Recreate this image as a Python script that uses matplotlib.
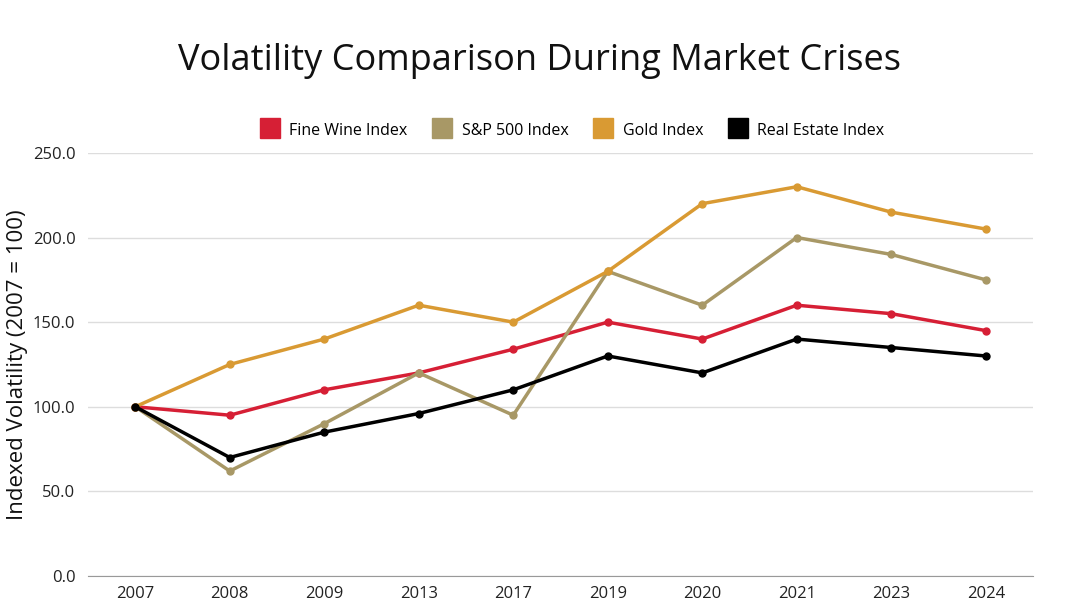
import matplotlib
matplotlib.use('Agg')
import matplotlib.pyplot as plt
import numpy as np

plt.rcParams['font.family'] = ['Open Sans', 'DejaVu Sans']

# --- data ---
years = ['2007', '2008', '2009', '2013', '2017', '2019', '2020', '2021', '2023', '2024']
fine_wine = [100, 95, 110, 120, 134, 150, 140, 160, 155, 145]
sp500 = [100, 62, 90, 120, 95, 180, 160, 200, 190, 175]
gold = [100, 125, 140, 160, 150, 180, 220, 230, 215, 205]
real_estate = [100, 70, 85, 96, 110, 130, 120, 140, 135, 130]

series = [
    ('Fine Wine Index', fine_wine, '#D61F35'),
    ('S&P 500 Index', sp500, '#A89866'),
    ('Gold Index', gold, '#D99A33'),
    ('Real Estate Index', real_estate, '#000000'),
]

fig = plt.figure(figsize=(10.8, 6.07), dpi=100)
ax = fig.add_axes([0.0815, 0.0511, 0.875, 0.697])

xx = np.arange(len(years))
for name, vals, col in series:
    ax.plot(xx, vals, color=col, linewidth=2.5, marker='o', markersize=5, label=name)

ax.set_xlim(-0.5, len(years) - 0.5)
ax.set_ylim(0, 250)
ax.set_xticks(xx)
ax.set_xticklabels(years)
ax.set_yticks(np.arange(0, 251, 50))
ax.set_yticklabels([f'{v:.1f}' for v in np.arange(0, 251, 50)])
ax.tick_params(axis='both', length=0, labelsize=12, colors='#222222')
ax.tick_params(axis='x', pad=7)
ax.tick_params(axis='y', pad=9)
ax.grid(axis='y', color='#DDDDDD', linewidth=1)
ax.set_axisbelow(True)
for s in ['top', 'right', 'left']:
    ax.spines[s].set_visible(False)
ax.spines['bottom'].set_color('#999999')

ax.set_ylabel('Indexed Volatility (2007 = 100)', fontsize=16, color='#111111')
ax.yaxis.set_label_coords(-0.075, 0.5)
ax.yaxis.label.set_va('center')

fig.text(0.5, 0.9, 'Volatility Comparison During Market Crises', ha='center', va='center',
         fontsize=26, color='#111111')

fig.legend(handles=ax.get_lines(), loc='center', bbox_to_anchor=(0.53, 0.786), ncol=4,
           frameon=False, fontsize=11.5, handlelength=1.2, handleheight=1.2,
           handletextpad=0.6, columnspacing=1.6)
# square legend markers
leg = fig.legends[0]
for h in leg.legend_handles:
    h.set_linestyle('none')
    h.set_marker('s')
    h.set_markersize(14)

fig.savefig('out.png', dpi=100)
